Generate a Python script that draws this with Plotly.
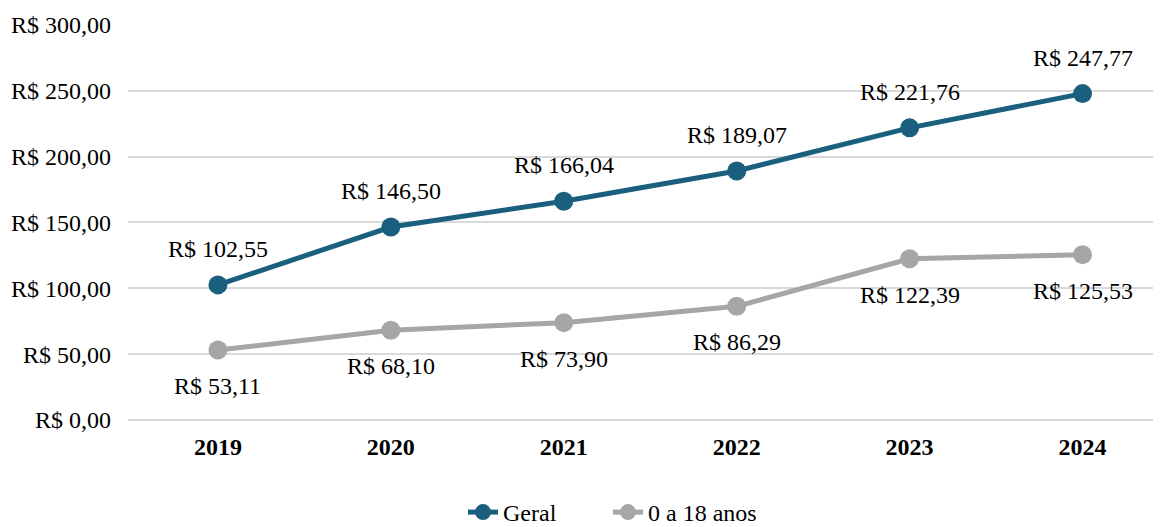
import plotly.graph_objects as go

# ── Dados ────────────────────────────────────────────────────────────────────
ANOS = ["2019", "2020", "2021", "2022", "2023", "2024"]
GERAL = [102.55, 146.50, 166.04, 189.07, 221.76, 247.77]
MENORES = [53.11, 68.10, 73.90, 86.29, 122.39, 125.53]
Y_TICKS = [0, 50, 100, 150, 200, 250, 300]

AZUL = "#1B5F7F"
CINZA = "#A6A6A6"
FONTE = "Liberation Serif"


def brl(v):
    return "R$ " + f"{v:,.2f}".replace(",", "X").replace(".", ",").replace("X", ".")


fig = go.Figure()

fig.add_trace(go.Scatter(
    x=ANOS, y=GERAL, name="Geral", mode="lines+markers",
    line=dict(color=AZUL, width=5),
    marker=dict(size=19, color=AZUL),
    legendwidth=100,
))
fig.add_trace(go.Scatter(
    x=ANOS, y=MENORES, name="0 a 18 anos", mode="lines+markers",
    line=dict(color=CINZA, width=5),
    marker=dict(size=19, color=CINZA),
))

# rótulos de dados (x pelo índice da categoria)
for i, v in enumerate(GERAL):
    fig.add_annotation(x=i, y=v, text=brl(v), showarrow=False, yshift=36,
                       font=dict(size=24, color="#000000", family=FONTE))
for i, v in enumerate(MENORES):
    fig.add_annotation(x=i, y=v, text=brl(v), showarrow=False, yshift=-36,
                       font=dict(size=24, color="#000000", family=FONTE))

# a página tem 8 px de margem no body: margens compensadas
fig.update_layout(
    width=1161, height=527,
    margin=dict(l=120, r=0, t=16, b=115, autoexpand=False),
    plot_bgcolor="white", paper_bgcolor="white",
    font=dict(family=FONTE, size=24, color="#000000"),
    showlegend=True,
    legend=dict(orientation="h", xref="container", yref="container",
                x=455 / 1161, xanchor="left", y=-0.008, yanchor="bottom",
                font=dict(size=24, family=FONTE)),
)
fig.update_xaxes(
    type="category", range=[-0.52, 5.5],
    showgrid=False, showline=False, zeroline=False,
    tickfont=dict(size=24, family=FONTE, weight="bold"),
    ticks="", ticklabelstandoff=10,
)
fig.update_yaxes(
    range=[0, 300.6], tickvals=Y_TICKS, ticktext=[brl(v) for v in Y_TICKS],
    showgrid=True, gridcolor="#D9D9D9", gridwidth=1.5,
    zeroline=True, zerolinecolor="#D9D9D9", zerolinewidth=1.5,
    showline=False, ticks="", tickfont=dict(size=24, family=FONTE),
    ticklabelstandoff=16,
)

fig.write_html("out.html")
